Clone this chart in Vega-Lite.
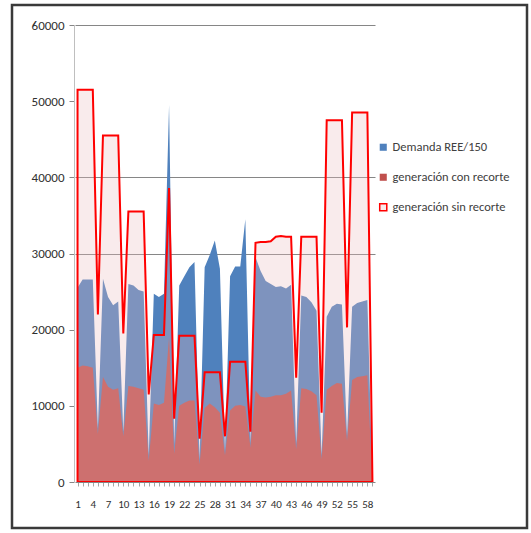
{
  "$schema": "https://vega.github.io/schema/vega-lite/v6.json",
  "autosize": "none",
  "width": 515,
  "height": 523,
  "padding": {"left": 12, "top": 5, "right": 4, "bottom": 5},
  "background": "white",
  "view": {"stroke": "#3a3a3a", "strokeWidth": 2.5},
  "config": {"font": "Carlito, 'Liberation Sans Narrow', 'Liberation Sans', sans-serif"},
  "data": {"values": [
    {"i":1,"D":25500,"R":15000,"S":51500},
    {"i":2,"D":26600,"R":15300,"S":51500},
    {"i":3,"D":26600,"R":15200,"S":51500},
    {"i":4,"D":26600,"R":15000,"S":51500},
    {"i":5,"D":7000,"R":6300,"S":22000},
    {"i":6,"D":26700,"R":13800,"S":45500},
    {"i":7,"D":24300,"R":12500,"S":45500},
    {"i":8,"D":23200,"R":12100,"S":45500},
    {"i":9,"D":23700,"R":12300,"S":45500},
    {"i":10,"D":6600,"R":6000,"S":19500},
    {"i":11,"D":26000,"R":12600,"S":35500},
    {"i":12,"D":25800,"R":12500,"S":35500},
    {"i":13,"D":25200,"R":12300,"S":35500},
    {"i":14,"D":25000,"R":12100,"S":35500},
    {"i":15,"D":3500,"R":2800,"S":11500},
    {"i":16,"D":24700,"R":10300,"S":19300},
    {"i":17,"D":24300,"R":10100,"S":19300},
    {"i":18,"D":24700,"R":10400,"S":19300},
    {"i":19,"D":49500,"R":19000,"S":38600},
    {"i":20,"D":5000,"R":3700,"S":8300},
    {"i":21,"D":25800,"R":10000,"S":19200},
    {"i":22,"D":27000,"R":10400,"S":19200},
    {"i":23,"D":28200,"R":10700,"S":19200},
    {"i":24,"D":28900,"R":10700,"S":19200},
    {"i":25,"D":3000,"R":2300,"S":5700},
    {"i":26,"D":28200,"R":9700,"S":14400},
    {"i":27,"D":29800,"R":10300,"S":14400},
    {"i":28,"D":31700,"R":9800,"S":14400},
    {"i":29,"D":28000,"R":9100,"S":14400},
    {"i":30,"D":4000,"R":3500,"S":6000},
    {"i":31,"D":27000,"R":9400,"S":15800},
    {"i":32,"D":28300,"R":10000,"S":15800},
    {"i":33,"D":28300,"R":10100,"S":15800},
    {"i":34,"D":34500,"R":9900,"S":15800},
    {"i":35,"D":5100,"R":4600,"S":6600},
    {"i":36,"D":29500,"R":12000,"S":31400},
    {"i":37,"D":27700,"R":11200,"S":31500},
    {"i":38,"D":26400,"R":11100,"S":31500},
    {"i":39,"D":26000,"R":11200,"S":31600},
    {"i":40,"D":25600,"R":11400,"S":32200},
    {"i":41,"D":25700,"R":11400,"S":32300},
    {"i":42,"D":25400,"R":11600,"S":32200},
    {"i":43,"D":25900,"R":12000,"S":32200},
    {"i":44,"D":5000,"R":4300,"S":13700},
    {"i":45,"D":24500,"R":12300,"S":32200},
    {"i":46,"D":24300,"R":12200,"S":32200},
    {"i":47,"D":23600,"R":11900,"S":32200},
    {"i":48,"D":22500,"R":11400,"S":32200},
    {"i":49,"D":3500,"R":3000,"S":9100},
    {"i":50,"D":21700,"R":12100,"S":47500},
    {"i":51,"D":23000,"R":12600,"S":47500},
    {"i":52,"D":23400,"R":13000,"S":47500},
    {"i":53,"D":23300,"R":12900,"S":47500},
    {"i":54,"D":6000,"R":5400,"S":20300},
    {"i":55,"D":23000,"R":13400,"S":48500},
    {"i":56,"D":23500,"R":13800,"S":48500},
    {"i":57,"D":23700,"R":13900,"S":48500},
    {"i":58,"D":23900,"R":14000,"S":48500},
    {"i":59,"D":0,"R":0,"S":0}
  ]},
  "transform": [{"fold": ["D", "R", "S"], "as": ["k", "v"]}],
  "encoding": {
    "x": {
      "field": "i", "type": "ordinal",
      "scale": {"type": "point", "range": [63, 363]},
      "axis": {
        "title": null, "offset": -46, "orient": "bottom",
        "labelExpr": "(datum.value - 1) % 3 === 0 ? datum.label : ''",
        "labelAngle": 0, "labelFontSize": 11, "labelColor": "#303030",
        "labelPadding": 12, "tickSize": 4, "tickColor": "#a6a6a6",
        "domainColor": "#868686", "grid": false, "labelOverlap": false,
        "labelBound": false, "zindex": 1
      }
    },
    "y": {
      "field": "v", "type": "quantitative", "stack": null,
      "scale": {"domain": [0, 60000], "range": [477, 20], "nice": false, "zero": true},
      "axis": {
        "title": null, "offset": -62, "orient": "left",
        "values": [0, 10000, 20000, 30000, 40000, 50000, 60000],
        "format": "d", "labelFontSize": 13, "labelColor": "#303030",
        "labelPadding": 5, "tickSize": 5, "tickColor": "#868686",
        "domainColor": "#bfbfbf", "grid": true, "gridWidth": 1.2,
        "gridColor": {"condition": {"test": "datum.value === 30000 || datum.value === 40000 || datum.value === 60000", "value": "#868686"}, "value": "transparent"}
      }
    }
  },
  "layer": [
    {
      "transform": [{"filter": "datum.k === 'D'"}],
      "mark": {"type": "area"},
      "encoding": {
        "color": {
          "datum": "Demanda REE/150",
          "scale": {
            "domain": ["Demanda REE/150", "generación con recorte", "generación sin recorte"],
            "range": ["#4F81BD", "#C0504D", "#EBBEBF"]
          },
          "legend": {
            "orient": "none", "legendX": 365, "legendY": 136, "title": null,
            "symbolType": "square", "symbolSize": 50, "labelFontSize": 12.5,
            "labelColor": "#404040", "rowPadding": 16, "labelOffset": 3,
            "encode": {"symbols": {"update": {
              "stroke": {"signal": "datum.value === 'generación sin recorte' ? '#FF0000' : 'transparent'"},
              "strokeWidth": {"value": 1.5},
              "fillOpacity": {"signal": "datum.value === 'generación sin recorte' ? 0.3 : 1"}
            }}}
          }
        }
      }
    },
    {
      "transform": [{"filter": "datum.k === 'R'"}],
      "mark": {"type": "area"},
      "encoding": {"color": {"datum": "generación con recorte"}}
    },
    {
      "transform": [{"filter": "datum.k === 'S'"}],
      "mark": {"type": "area", "fillOpacity": 0.3, "stroke": "#FF0000", "strokeWidth": 2, "strokeJoin": "miter"},
      "encoding": {"color": {"datum": "generación sin recorte"}}
    }
  ]
}
